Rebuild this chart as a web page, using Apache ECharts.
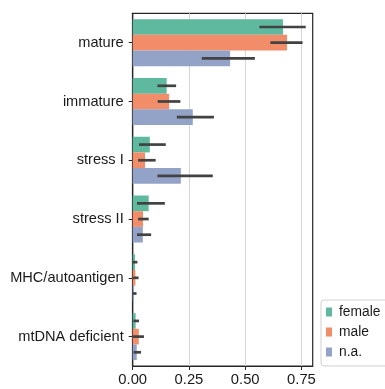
<!DOCTYPE html>
<html>
<head>
<meta charset="utf-8">
<script src="https://cdn.jsdelivr.net/npm/echarts@6/dist/echarts.min.js"></script>
<style>
  html, body { margin: 0; padding: 0; background: #fff; }
  #chart { width: 385px; height: 389px; }
</style>
</head>
<body>
<div id="chart"></div>
<script>
// cell states, top to bottom
const categories = ["mature", "immature", "stress I", "stress II", "MHC/autoantigen", "mtDNA deficient"];
const groups = ["female", "male", "n.a."];

// mean fraction per group
const female = [0.668, 0.151, 0.076, 0.071, 0.010, 0.013];
const male = [0.686, 0.162, 0.055, 0.046, 0.012, 0.027];
const na = [0.433, 0.267, 0.214, 0.045, 0.006, 0.018];

// error bar low / high
const femaleLo = [0.563, 0.110, 0.028, 0.019, 0.000, 0.003];
const femaleHi = [0.769, 0.193, 0.147, 0.143, 0.021, 0.028];
const maleLo = [0.612, 0.111, 0.024, 0.024, 0.002, 0.000];
const maleHi = [0.755, 0.212, 0.102, 0.071, 0.026, 0.050];
const naLo = [0.307, 0.196, 0.110, 0.019, 0.000, 0.004];
const naHi = [0.543, 0.361, 0.356, 0.082, 0.017, 0.037];

const xTicks = [0, 0.25, 0.5, 0.75];

const colors = ["#5fb99e", "#f28d6a", "#93a3c8"];
const fontFamily = "Liberation Sans, Arial, sans-serif";

const means = [female, male, na];
const lows = [femaleLo, maleLo, naLo];
const highs = [femaleHi, maleHi, naHi];

const chart = echarts.init(document.getElementById("chart"));

const barSeries = groups.map((name, k) => ({
  name: name,
  type: "bar",
  data: means[k],
  barGap: "0%",
  barCategoryGap: "20%",
  itemStyle: { color: colors[k] },
  z: 2
}));

const errSeries = groups.map((name, k) => ({
  type: "custom",
  name: name + " err",
  data: categories.map((c, i) => [lows[k][i], highs[k][i], i]),
  encode: { x: [0, 1], y: 2 },
  z: 5,
  silent: true,
  renderItem: (params, api) => {
    const a = api.coord([api.value(0), api.value(2)]);
    const b = api.coord([api.value(1), api.value(2)]);
    const band = api.size([0, 1])[1];
    const dy = (k - 1) * band * 0.8 / 3;
    return {
      type: "line",
      shape: { x1: a[0], y1: a[1] + dy, x2: b[0], y2: b[1] + dy },
      style: { stroke: "#424242", lineWidth: 2.7 }
    };
  }
}));

chart.setOption({
  animation: false,
  textStyle: { fontFamily: fontFamily },
  grid: {
    left: 132.7,
    right: 72.3,
    top: 13.3,
    bottom: 23,
    show: true,
    borderColor: "#262626",
    borderWidth: 1.2,
    backgroundColor: "transparent"
  },
  legend: {
    data: groups,
    orient: "vertical",
    left: 321,
    top: 300,
    padding: [5, 8, 7, 5],
    itemWidth: 6,
    itemHeight: 9,
    itemGap: 6,
    icon: "rect",
    borderColor: "#d0d0d0",
    borderWidth: 1,
    borderRadius: 3,
    textStyle: {
      fontSize: 13.8,
      color: "#1a1a1a",
      lineHeight: 14,
      padding: [0, 0, 0, 2],
      fontFamily: fontFamily
    }
  },
  xAxis: {
    type: "value",
    min: 0,
    max: 0.8,
    interval: 0.25,
    axisLine: { show: true, lineStyle: { color: "#262626", width: 1.2 } },
    axisTick: { show: true, length: 4, customValues: xTicks, lineStyle: { color: "#262626" } },
    axisLabel: {
      customValues: xTicks,
      formatter: v => v.toFixed(2),
      fontSize: 14.8,
      color: "#1a1a1a",
      margin: 6
    },
    splitLine: { show: true, lineStyle: { color: "#d6d6d6", width: 1 } }
  },
  yAxis: {
    type: "category",
    data: categories,
    inverse: true,
    axisLine: { show: true, lineStyle: { color: "#262626", width: 1.2 } },
    axisTick: { show: true, length: 4, alignWithLabel: true, lineStyle: { color: "#262626" } },
    axisLabel: { fontSize: 14.6, color: "#1a1a1a", margin: 9 },
    splitLine: { show: false }
  },
  series: barSeries.concat(errSeries)
});
</script>
</body>
</html>
